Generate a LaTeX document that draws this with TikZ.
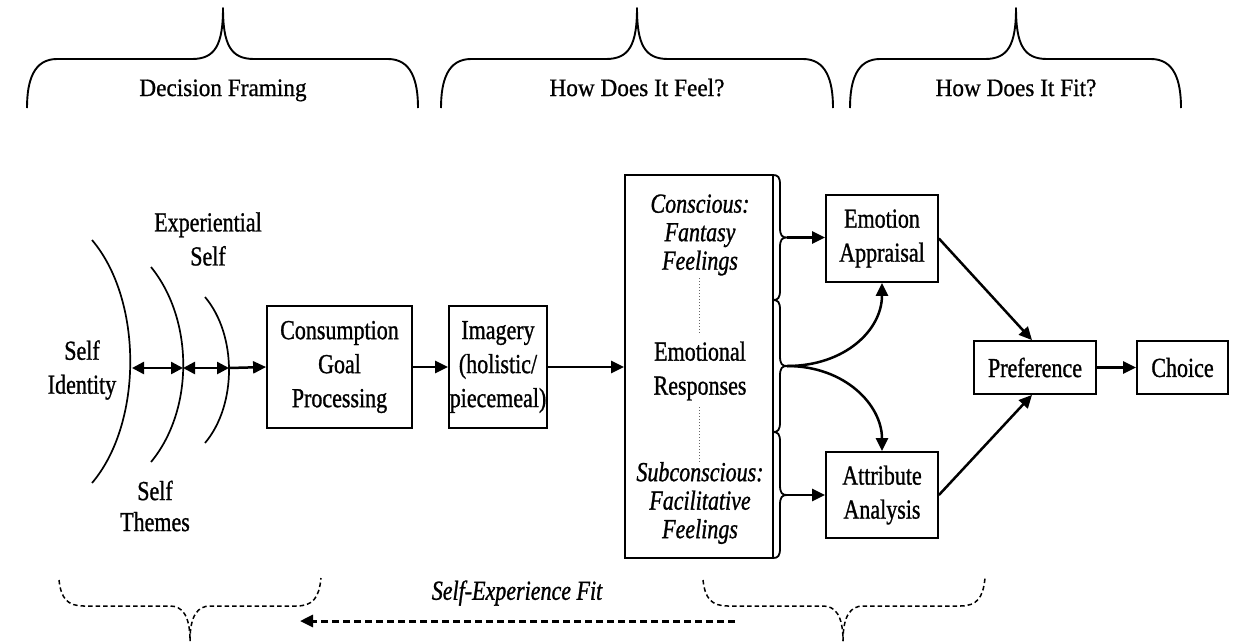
\documentclass[tikz,border=0pt]{standalone}
\usepackage{fontspec}
\setmainfont[FakeStretch=0.8, FakeBold=1.0]{Liberation Serif}
\newfontfamily\toplabelfont[FakeStretch=0.93, FakeBold=0.8]{Liberation Serif}
\usetikzlibrary{arrows.meta}
\newcommand\bxfont{\fontsize{27.5}{34}\selectfont}
\newcommand\itbxfont{\fontsize{27.5}{28.5}\selectfont\itshape}
\newcommand\tlfont{\toplabelfont\fontsize{25}{30}\selectfont}
\newcommand\topbrace[3]{%
  \draw[bracestyle] (#1,108) .. controls (#1,80) and (#1+7,59) .. (#1+30,59)
    -- (#2-31,59) .. controls (#2-8,59) and (#2,45) .. (#2,8)
    .. controls (#2,45) and (#2+8,59) .. (#2+31,59)
    -- (#3-30,59) .. controls (#3-7,59) and (#3,80) .. (#3,108);}
\newcommand\botbrace[3]{%
  \draw[dbracestyle] (#1,580) .. controls (#1+2,598) and (#1+8,606) .. (#1+25,606)
    -- (#2-20,606) .. controls (#2-8,606) and (#2,615) .. (#2,641);
  \draw[dbracestyle] (#2,641) .. controls (#2,615) and (#2+8,606) .. (#2+20,606)
    -- (#3-25,606) .. controls (#3-8,606) and (#3-2,598) .. (#3,578);}
\newcommand\sidebrace[2]{%
  \draw[rbracestyle] (773,#1) .. controls (778,#1) and (780,#1+2) .. (780,#1+10)
    -- (780,{(#1+#2)/2-10}) .. controls (780,{(#1+#2)/2-2}) and (782,{(#1+#2)/2}) .. (787,{(#1+#2)/2})
    .. controls (782,{(#1+#2)/2}) and (780,{(#1+#2)/2+2}) .. (780,{(#1+#2)/2+10})
    -- (780,#2-10) .. controls (780,#2-2) and (778,#2) .. (773,#2);}
\begin{document}
\begin{tikzpicture}[x=1pt,y=-1pt,
  box/.style={draw, line width=1.8pt, align=center, inner sep=0pt, font=\bxfont},
  txt/.style={align=center, inner sep=0pt, font=\bxfont},
  arr/.style={line width=2.5pt, -{Triangle[length=13pt,width=12pt]}},
  darr/.style={line width=2.5pt, {Triangle[length=12pt,width=12pt]}-{Triangle[length=12pt,width=12pt]}},
  dasharr/.style={line width=3pt, dash pattern=on 7pt off 4pt, -{Triangle[length=13pt,width=12pt]}},
  bracestyle/.style={line width=1.9pt, line join=round},
  dbracestyle/.style={line width=1.5pt, dash pattern=on 4.5pt off 3pt},
  rbracestyle/.style={line width=1.8pt, line join=round},
  arcstyle/.style={line width=1.7pt},
  dotline/.style={line width=1pt, dotted, black!60}
]
\useasboundingbox (0,0) rectangle (1238,641);

% top braces and labels
\topbrace{27}{223}{418}
\topbrace{441}{637}{833}
\topbrace{850}{1016}{1181}
\node[anchor=base, inner sep=0pt, font=\tlfont] (df) at (223,96) {Decision Framing};
\node[anchor=base, inner sep=0pt, font=\tlfont] (hfeel) at (637,96) {How Does It Feel?};
\node[anchor=base, inner sep=0pt, font=\tlfont] (hfit) at (1016,96) {How Does It Fit?};

% self arcs
\draw[arcstyle] (92,240) .. controls (143,300) and (143,423) .. (92,483);
\draw[arcstyle] (151,267) .. controls (194,320) and (194,410) .. (151,462);
\draw[arcstyle] (205,297) .. controls (237,335) and (237,405) .. (205,443);
\coordinate (a1) at (132,368);
\coordinate (a2) at (183,368);
\coordinate (a3) at (229,368);

\node[txt] (sid) at (82,370) {Self\\Identity};
\node[txt] (exs) at (208,239) {Experiential\\Self};
\node[txt, font=\fontsize{27.5}{31}\selectfont] (sth) at (155,506) {Self\\Themes};

% main boxes
\node[box, minimum width=145pt, minimum height=122pt] (cgp) at (339.5,367) {Consumption\\Goal\\Processing};
\node[box, minimum width=98pt, minimum height=122pt] (img) at (498,367) {Imagery\\(holistic/\\piecemeal)};
\node[box, minimum width=148pt, minimum height=383pt] (er) at (699,366.5) {};
\node[txt, font=\itbxfont] (cons) at (700,235) {Conscious:\\Fantasy\\Feelings};
\node[txt] (emr) at (700,371) {Emotional\\Responses};
\node[txt, font=\itbxfont] (sub) at (700,503) {Subconscious:\\Facilitative\\Feelings};
\draw[dotline] (699,278) -- (699,333);
\draw[dotline] (699,407) -- (699,462);

% braces on the right of the emotional responses box
\sidebrace{175}{300}
\sidebrace{300}{432}
\sidebrace{432}{558}
\coordinate (t1) at (787,237.5);
\coordinate (t2) at (787,366);
\coordinate (t3) at (787,495);

\node[box, minimum width=112pt, minimum height=87pt] (ea) at (882,238.5) {Emotion\\Appraisal};
\node[box, minimum width=112pt, minimum height=86pt] (aa) at (882,495) {Attribute\\Analysis};
\node[box, minimum width=122pt, minimum height=53pt] (pref) at (1035,367.5) {Preference};
\node[box, minimum width=91pt, minimum height=53pt] (choice) at (1182.5,367.5) {Choice};

% connectors
\draw[darr] (a1) -- (a2);
\draw[darr] (a2) -- (a3);
\draw[arr] (a3) -- (cgp.west);
\draw[arr] (cgp.east) -- (img.west);
\draw[arr] (img.east) -- (img.east -| er.west);
\draw[arr] (t1) -- (t1 -| ea.west);
\draw[arr] (t3) -- (t3 -| aa.west);
\draw[arr] (t2) .. controls (845,366) and (882,330) .. (ea.south);
\draw[arr] (t2) .. controls (845,366) and (882,405) .. (aa.north);
\draw[arr] (ea.east) -- ([xshift=-3pt]pref.north);
\draw[arr] (aa.east) -- ([xshift=-3pt]pref.south);
\draw[arr] (pref.east) -- (choice.west);

% bottom dashed braces
\botbrace{59}{190}{321}
\botbrace{703}{843}{985}
\node[txt, font=\itbxfont] (sef) at (517,593) {Self-Experience Fit};
\coordinate (fitstart) at (735,621);
\coordinate (fitend) at (300,621);
\draw[dasharr] (fitstart) -- (fitend);
\end{tikzpicture}
\end{document}
